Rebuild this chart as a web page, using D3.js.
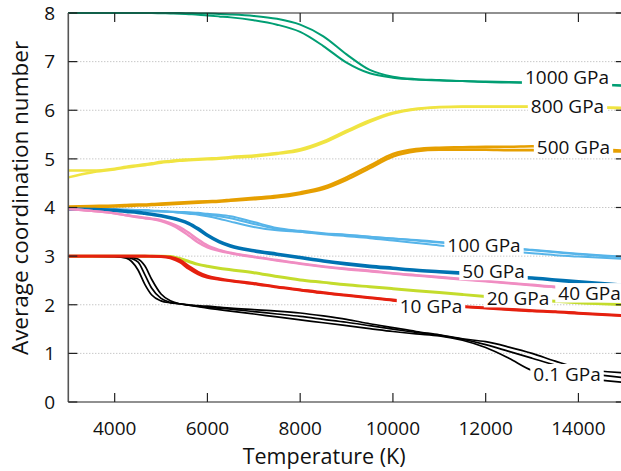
<!DOCTYPE html>
<html><head><meta charset="utf-8">
<script src="https://cdn.jsdelivr.net/npm/d3@7"></script>
<style>
html,body{margin:0;padding:0;background:#fff;}
svg{display:block;font-family:"Open Sans",sans-serif;}
</style></head>
<body>
<svg id="chart" width="621" height="471"></svg>
<script>
// ---------------- data ----------------
const temps = [3000,3500,4000,4250,4500,4650,4800,5000,5200,5400,5600,5800,6000,6250,6500,7000,7500,8000,8500,9000,9500,10000,10500,11000,11500,12000,12500,13000,13500,14000,15000];

const gpa1000a = [8.0,8.0,8.0,8.0,8.0,8.0,8.0,7.995,7.99,7.985,7.975,7.965,7.95,7.93,7.91,7.85,7.76,7.61,7.32,6.98,6.76,6.67,6.63,6.61,6.6,6.58,6.57,6.56,6.55,6.54,6.5];
const gpa1000b = [8.0,8.0,8.0,8.0,8.0,8.0,8.0,8.0,8.0,8.0,7.995,7.99,7.99,7.98,7.97,7.94,7.88,7.76,7.52,7.15,6.83,6.69,6.64,6.62,6.6,6.59,6.58,6.57,6.56,6.55,6.51];
const gpa800a = [4.76,4.76,4.8,4.84,4.87,4.89,4.91,4.94,4.96,4.98,4.99,5.0,5.01,5.02,5.04,5.07,5.12,5.2,5.36,5.58,5.79,5.95,6.03,6.07,6.08,6.08,6.08,6.08,6.07,6.07,6.05];
const gpa800b = [4.62,4.72,4.78,4.82,4.85,4.87,4.89,4.92,4.94,4.96,4.97,4.98,4.99,5.0,5.02,5.05,5.1,5.17,5.33,5.55,5.76,5.93,6.02,6.06,6.07,6.07,6.07,6.07,6.06,6.06,6.04];
const gpa500a = [4.02,4.03,4.04,4.05,4.06,4.06,4.07,4.08,4.09,4.1,4.11,4.12,4.13,4.14,4.16,4.2,4.24,4.31,4.42,4.62,4.86,5.1,5.2,5.23,5.24,5.25,5.25,5.26,5.24,5.21,5.17];
const gpa500b = [4.0,4.01,4.02,4.03,4.04,4.04,4.05,4.06,4.07,4.08,4.09,4.1,4.11,4.12,4.14,4.17,4.21,4.28,4.38,4.57,4.81,5.05,5.16,5.19,5.19,5.19,5.18,5.18,5.17,5.16,5.15];
const gpa100a = [3.97,3.97,3.96,3.95,3.94,3.94,3.93,3.92,3.91,3.89,3.87,3.85,3.82,3.77,3.71,3.6,3.53,3.5,3.46,3.43,3.4,3.36,3.33,3.29,3.25,3.21,3.17,3.13,3.09,3.05,2.99];
const gpa100b = [3.97,3.97,3.96,3.95,3.94,3.94,3.93,3.92,3.91,3.9,3.88,3.87,3.85,3.82,3.78,3.66,3.56,3.5,3.45,3.41,3.37,3.32,3.27,3.22,3.18,3.14,3.1,3.06,3.02,2.99,2.94];
const gpa100c = [3.97,3.97,3.96,3.96,3.95,3.95,3.94,3.93,3.92,3.91,3.9,3.89,3.87,3.85,3.82,3.7,3.58,3.52,3.47,3.44,3.4,3.36,3.32,3.28,3.24,3.2,3.16,3.12,3.08,3.04,2.97];
const gpa50 = [3.97,3.96,3.94,3.92,3.9,3.88,3.86,3.83,3.79,3.74,3.67,3.56,3.43,3.3,3.21,3.11,3.04,2.97,2.9,2.84,2.79,2.75,2.71,2.68,2.65,2.62,2.58,2.55,2.51,2.47,2.4];
const gpa40a = [3.97,3.93,3.88,3.84,3.8,3.78,3.76,3.72,3.65,3.55,3.42,3.28,3.18,3.11,3.06,2.98,2.91,2.84,2.78,2.73,2.69,2.64,2.6,2.56,2.52,2.48,2.44,2.4,2.36,2.33,2.27];
const gpa40b = [3.97,3.93,3.88,3.84,3.81,3.79,3.77,3.74,3.68,3.6,3.48,3.34,3.22,3.13,3.07,2.99,2.92,2.85,2.79,2.74,2.7,2.65,2.61,2.57,2.53,2.49,2.45,2.41,2.37,2.34,2.28];
const gpa20 = [3.0,3.0,3.0,3.0,3.0,3.0,3.0,3.0,2.99,2.95,2.89,2.83,2.79,2.75,2.72,2.66,2.58,2.51,2.46,2.41,2.37,2.33,2.29,2.25,2.21,2.17,2.13,2.1,2.07,2.04,2.0];
const gpa10a = [3.0,3.0,3.0,3.0,3.0,3.0,2.995,2.99,2.96,2.88,2.74,2.63,2.56,2.52,2.49,2.43,2.36,2.3,2.24,2.19,2.14,2.09,2.05,2.0,1.96,1.93,1.9,1.87,1.85,1.82,1.77];
const gpa10b = [3.0,3.0,3.0,3.0,3.0,3.0,3.0,2.995,2.98,2.92,2.79,2.67,2.59,2.54,2.5,2.44,2.37,2.31,2.25,2.2,2.15,2.1,2.06,2.01,1.97,1.94,1.91,1.88,1.86,1.83,1.78];
const gpa01a = [3.0,3.0,2.99,2.96,2.72,2.42,2.2,2.08,2.04,2.02,2.0,1.98,1.97,1.95,1.93,1.9,1.87,1.83,1.77,1.7,1.61,1.53,1.45,1.38,1.3,1.24,1.13,1.0,0.84,0.7,0.6];
const gpa01b = [3.0,3.0,3.0,2.98,2.88,2.62,2.34,2.13,2.05,2.02,1.99,1.97,1.95,1.93,1.91,1.86,1.81,1.76,1.7,1.64,1.57,1.5,1.43,1.37,1.29,1.18,1.04,0.9,0.76,0.63,0.5];
const gpa01c = [3.0,3.0,3.0,2.99,2.94,2.8,2.52,2.22,2.08,2.02,1.99,1.96,1.93,1.9,1.87,1.81,1.75,1.69,1.63,1.57,1.51,1.45,1.4,1.36,1.27,1.12,0.9,0.65,0.56,0.5,0.4];

const labelNames = ["1000 GPa","800 GPa","500 GPa","100 GPa","50 GPa","40 GPa","20 GPa","10 GPa","0.1 GPa"];
const labelT = [13754,13764,13894,11964,12169,14239,12697,10821,13754];
const labelV = [6.67,6.08,5.23,3.23,2.70,2.24,2.14,1.965,0.576];

const xTicks = [4000,6000,8000,10000,12000,14000];
const yTicks = [0,1,2,3,4,5,6,7,8];

// series (drawing order) with colour
const series = [
  {v: gpa1000a, c: "#009e73", w: 2},
  {v: gpa1000b, c: "#009e73", w: 2},
  {v: gpa800a, c: "#f0e442", w: 2.4},
  {v: gpa800b, c: "#f0e442", w: 2.4},
  {v: gpa500a, c: "#e69f00", w: 2.6},
  {v: gpa500b, c: "#e69f00", w: 2.6},
  {v: gpa100a, c: "#56b4e9", w: 2},
  {v: gpa100b, c: "#56b4e9", w: 2},
  {v: gpa100c, c: "#56b4e9", w: 2},
  {v: gpa50, c: "#0072b2", w: 3.6},
  {v: gpa40a, c: "#f08dc2", w: 2.4},
  {v: gpa40b, c: "#f08dc2", w: 2.4},
  {v: gpa20, c: "#c4dc2c", w: 3},
  {v: gpa01a, c: "#000000", w: 1.7},
  {v: gpa01b, c: "#000000", w: 1.7},
  {v: gpa01c, c: "#000000", w: 1.7},
  {v: gpa10a, c: "#e5200f", w: 2.6},
  {v: gpa10b, c: "#e5200f", w: 2.6}
];

// ---------------- layout ----------------
const svg = d3.select("#chart");
const mLeft = 68.3, mRight = 624.8, mTop = 13, mBottom = 402;
const x = d3.scaleLinear().domain([3000, 15000]).range([mLeft, mRight]);
const y = d3.scaleLinear().domain([0, 8]).range([mBottom, mTop]);

// grid
svg.append("g").selectAll("line").data(yTicks.filter(d => d > 0 && d < 8)).join("line")
  .attr("x1", mLeft).attr("x2", mRight)
  .attr("y1", d => y(d)).attr("y2", d => y(d))
  .attr("stroke", "#b0b0b0").attr("stroke-width", 1)
  .attr("stroke-dasharray", "1,2");

// curves
const line = d3.line().x((d, i) => x(temps[i])).y(d => y(d)).curve(d3.curveMonotoneX);
const plot = svg.append("g");
plot.selectAll("path").data(series).join("path")
  .attr("d", d => line(d.v))
  .attr("fill", "none")
  .attr("stroke", d => d.c)
  .attr("stroke-width", d => d.w)
  .attr("stroke-linejoin", "round");

// labels with white boxes
const lab = svg.append("g").attr("font-size", 19).attr("fill", "#111");
labelNames.forEach((name, i) => {
  const cx = x(labelT[i]), cy = y(labelV[i]);
  const r = lab.append("rect").attr("fill", "#fff");
  const t = lab.append("text").attr("x", cx).attr("y", cy + 6.8)
    .attr("text-anchor", "middle").text(name);
  const w = t.node().getComputedTextLength();
  r.attr("x", cx - w / 2 - 3).attr("width", w + 6)
   .attr("y", cy - 10).attr("height", 19.5);
});

// frame
const frame = svg.append("g").attr("stroke", "#222").attr("stroke-width", 1.2).attr("fill", "none");
frame.append("line").attr("x1", mLeft).attr("x2", mRight).attr("y1", mTop).attr("y2", mTop);
frame.append("line").attr("x1", mLeft).attr("x2", mRight).attr("y1", mBottom).attr("y2", mBottom);
frame.append("line").attr("x1", mLeft).attr("x2", mLeft).attr("y1", mTop).attr("y2", mBottom).attr("stroke", "#555").attr("stroke-width", 1.6);
frame.append("line").attr("x1", mRight).attr("x2", mRight).attr("y1", mTop).attr("y2", mBottom);

// ticks
const tk = 9;
frame.selectAll(".xb").data(xTicks).join("line").attr("class", "xb")
  .attr("x1", d => x(d)).attr("x2", d => x(d)).attr("y1", mBottom).attr("y2", mBottom - tk);
frame.selectAll(".xt").data(xTicks).join("line").attr("class", "xt")
  .attr("x1", d => x(d)).attr("x2", d => x(d)).attr("y1", mTop).attr("y2", mTop + tk);
frame.selectAll(".yl").data(yTicks).join("line").attr("class", "yl")
  .attr("x1", mLeft).attr("x2", mLeft + tk).attr("y1", d => y(d)).attr("y2", d => y(d));
frame.selectAll(".yr").data(yTicks).join("line").attr("class", "yr")
  .attr("x1", mRight).attr("x2", mRight - tk).attr("y1", d => y(d)).attr("y2", d => y(d));

// tick labels
const tl = svg.append("g").attr("font-size", 19).attr("fill", "#111");
tl.selectAll(".xl").data(xTicks).join("text").attr("class", "xl")
  .attr("x", d => x(d)).attr("y", 435).attr("text-anchor", "middle").text(d => d);
tl.selectAll(".ylb").data(yTicks).join("text").attr("class", "ylb")
  .attr("x", 55).attr("y", d => y(d) + 6.8).attr("text-anchor", "end").text(d => d);

// axis titles
svg.append("text").attr("x", (mLeft + 580) / 2).attr("y", 464).attr("text-anchor", "middle")
  .attr("font-size", 21.5).attr("fill", "#111").text("Temperature (K)");
svg.append("text").attr("transform", "translate(28,198) rotate(-90)")
  .attr("text-anchor", "middle").attr("font-size", 22.5).attr("fill", "#111").text("Average coordination number");
</script>
</body></html>
